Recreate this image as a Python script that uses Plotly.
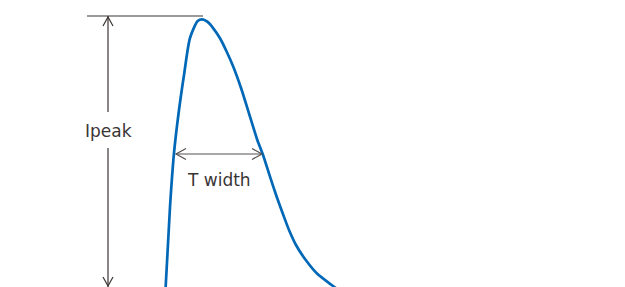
import plotly.graph_objects as go

# Pulse curve samples (time axis, current axis; y grows downward)
pulse_t = [165.6, 170, 174, 179, 184, 190, 197.7,
           202.3, 207.3, 213.3, 220, 226.7, 233.3, 241.7, 250, 257.3, 262.7, 270, 276.7,
           283.3, 289, 296, 305, 317, 331.7, 337]
pulse_i = [288, 207, 153, 110, 75, 38, 21,
           19.3, 21.7, 28.3, 38.3, 51.7, 66.7, 90, 116.7, 140, 154, 176.7, 196.7,
           215, 230, 245, 259, 273.5, 285, 289]

peak_t = 203
ref_i = 16
base_i = 287
half_left = 176
half_right = 262
half_i = 154
ipeak_x = 108

labels = ["Ipeak", "T width"]

# page body has an 8px margin: size the figure to the remaining area
OFF = 8
W, H = 625, 287
LINE = "#3b3434"
ARROW2 = "#555050"
TXT = "#3a3535"

fig = go.Figure()
fig.add_trace(go.Scatter(x=pulse_t, y=pulse_i, mode="lines",
                         line=dict(color="#0068b7", width=2.7, shape="spline", smoothing=0.7),
                         hoverinfo="skip", showlegend=False))

shapes = []
shapes.append(dict(type="line", x0=87, x1=peak_t, y0=ref_i, y1=ref_i,
                   line=dict(color=LINE, width=1.2)))
shapes.append(dict(type="line", x0=ipeak_x, x1=ipeak_x, y0=ref_i, y1=112,
                   line=dict(color=LINE, width=1.2)))
shapes.append(dict(type="line", x0=ipeak_x, x1=ipeak_x, y0=148, y1=base_i,
                   line=dict(color=LINE, width=1.2)))
shapes.append(dict(type="path",
                   path=f"M {ipeak_x-5},{ref_i+10} L {ipeak_x},{ref_i+1} L {ipeak_x+5},{ref_i+10}",
                   line=dict(color=LINE, width=1.2)))
shapes.append(dict(type="path",
                   path=f"M {ipeak_x-5},{base_i-10} L {ipeak_x},{base_i-1} L {ipeak_x+5},{base_i-10}",
                   line=dict(color=LINE, width=1.2)))
shapes.append(dict(type="line", x0=half_left, x1=half_right, y0=half_i, y1=half_i,
                   line=dict(color=ARROW2, width=1.2)))
shapes.append(dict(type="path",
                   path=f"M {half_left+10},{half_i-5.5} L {half_left},{half_i} L {half_left+10},{half_i+5.5}",
                   line=dict(color=ARROW2, width=1.2)))
shapes.append(dict(type="path",
                   path=f"M {half_right-10},{half_i-5.5} L {half_right},{half_i} L {half_right-10},{half_i+5.5}",
                   line=dict(color=ARROW2, width=1.2)))

fig.update_layout(
    width=W - OFF, height=H - OFF,
    margin=dict(l=0, r=0, t=0, b=0),
    paper_bgcolor="white", plot_bgcolor="white",
    xaxis=dict(range=[OFF, W], visible=False, fixedrange=True),
    yaxis=dict(range=[H, OFF], visible=False, fixedrange=True),
    shapes=shapes,
    annotations=[
        dict(x=ipeak_x, y=131, text=labels[0], showarrow=False,
             font=dict(family="DejaVu Sans", size=17, color=TXT)),
        dict(x=219, y=180, text=labels[1], showarrow=False,
             font=dict(family="DejaVu Sans", size=17, color=TXT)),
    ],
)

fig.write_html("out.html")
